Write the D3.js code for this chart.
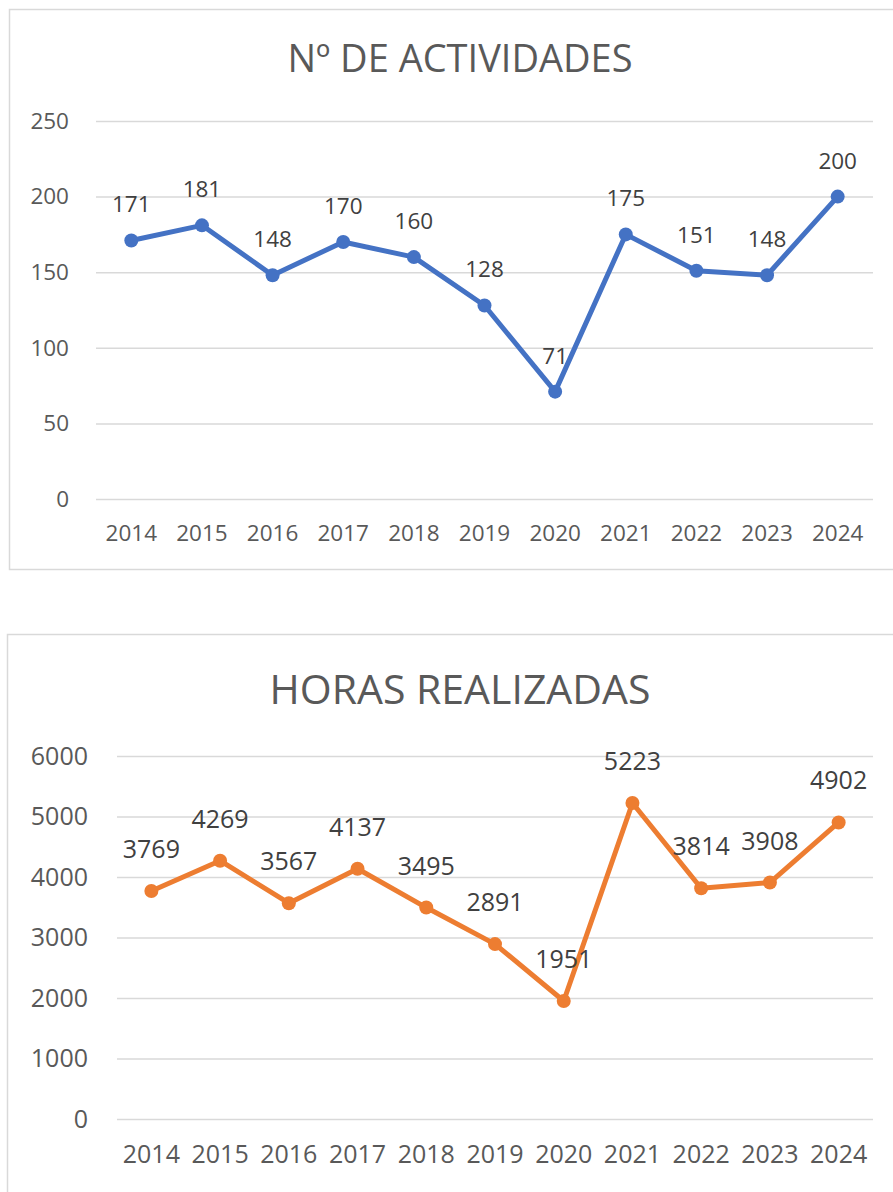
<!DOCTYPE html>
<html>
  <body style="margin:0;background:#fff;">
    <script src="https://d3js.org/d3.v7.min.js"></script>
    <script type="text/javascript">
      const years = ['2014', '2015', '2016', '2017', '2018', '2019', '2020', '2021', '2022', '2023', '2024'];
      const actividades = [171, 181, 148, 170, 160, 128, 71, 175, 151, 148, 200];
      const horas = [3769, 4269, 3567, 4137, 3495, 2891, 1951, 5223, 3814, 3908, 4902];
      const actividadesTicks = [0, 50, 100, 150, 200, 250];
      const horasTicks = [0, 1000, 2000, 3000, 4000, 5000, 6000];

      const width = 893;
      const height = 1192;
      const fontFamily = '"Open Sans", sans-serif';

      const svg = d3.select('body')
        .append('svg')
        .attr('width', width)
        .attr('height', height)
        .style('display', 'block');

      renderLineChart({
        title: 'Nº DE ACTIVIDADES',
        values: actividades,
        ticks: actividadesTicks,
        color: '#4472C4',
        box: { x: 9, y: 9, w: 900, h: 560 },
        plot: { left: 96, right: 873, top: 121, bottom: 499 },
        titleX: 460,
        titleY: 72,
        titleSize: 38,
        fontSize: 22.5,
        tickX: 69,
        xLabelY: 541,
        labelOffset: 28,
      });

      renderLineChart({
        title: 'HORAS REALIZADAS',
        values: horas,
        ticks: horasTicks,
        color: '#ED7D31',
        box: { x: 7, y: 634, w: 900, h: 600 },
        plot: { left: 117, right: 873, top: 756, bottom: 1119 },
        titleX: 460,
        titleY: 704,
        titleSize: 41,
        fontSize: 25,
        tickX: 88,
        xLabelY: 1163,
        labelOffset: 33,
      });

      function renderLineChart(cfg) {
        const g = svg.append('g');

        g.append('rect')
          .attr('x', cfg.box.x + 0.5)
          .attr('y', cfg.box.y + 0.5)
          .attr('width', cfg.box.w)
          .attr('height', cfg.box.h)
          .attr('fill', '#fff')
          .attr('stroke', '#d9d9d9')
          .attr('stroke-width', 1.5);

        const scaleX = d3.scaleBand()
          .domain(years)
          .range([cfg.plot.left, cfg.plot.right]);
        const scaleY = d3.scaleLinear()
          .domain([0, d3.max(cfg.ticks)])
          .range([cfg.plot.bottom, cfg.plot.top]);
        const cx = (d, i) => scaleX(years[i]) + scaleX.bandwidth() / 2;

        // gridlines + y labels
        const axisY = d3.axisLeft(scaleY)
          .tickValues(cfg.ticks)
          .tickFormat(d3.format('d'))
          .tickSize(-(cfg.plot.right - cfg.plot.left))
          .tickPadding(cfg.plot.left - cfg.tickX);
        g.append('g')
          .attr('transform', `translate(${cfg.plot.left}, 0)`)
          .call(axisY)
          .call((a) => a.select('.domain').remove())
          .call((a) => a.selectAll('line').attr('stroke', '#d9d9d9').attr('stroke-width', 1.5))
          .call((a) => a.selectAll('text')
            .attr('fill', '#595959')
            .style('font-family', fontFamily)
            .style('font-size', cfg.fontSize + 'px'));

        const axisX = d3.axisBottom(scaleX).tickSize(0).tickPadding(0);
        g.append('g')
          .attr('transform', `translate(0, ${cfg.plot.bottom})`)
          .call(axisX)
          .call((a) => a.select('.domain').remove())
          .call((a) => a.selectAll('text')
            .attr('dy', null)
            .attr('y', cfg.xLabelY - cfg.plot.bottom)
            .attr('fill', '#595959')
            .style('font-family', fontFamily)
            .style('font-size', cfg.fontSize + 'px'));

        g.append('text')
          .attr('x', cfg.titleX)
          .attr('y', cfg.titleY)
          .attr('text-anchor', 'middle')
          .attr('fill', '#595959')
          .style('font-family', fontFamily)
          .style('font-size', cfg.titleSize + 'px')
          .text(cfg.title);

        const line = d3.line()
          .x(cx)
          .y((d) => scaleY(d));
        g.append('path')
          .datum(cfg.values)
          .attr('d', line)
          .attr('fill', 'none')
          .attr('stroke', cfg.color)
          .attr('stroke-width', 5)
          .attr('stroke-linejoin', 'round')
          .attr('stroke-linecap', 'round');

        g.selectAll('circle')
          .data(cfg.values)
          .enter()
          .append('circle')
          .attr('cx', cx)
          .attr('cy', (d) => scaleY(d))
          .attr('r', 7)
          .attr('fill', cfg.color);

        g.selectAll('.value-label')
          .data(cfg.values)
          .enter()
          .append('text')
          .attr('class', 'value-label')
          .attr('x', cx)
          .attr('y', (d) => scaleY(d) - cfg.labelOffset)
          .attr('text-anchor', 'middle')
          .attr('fill', '#404040')
          .style('font-family', fontFamily)
          .style('font-size', cfg.fontSize + 'px')
          .text((d) => d);
      }
    </script>
  </body>
</html>
